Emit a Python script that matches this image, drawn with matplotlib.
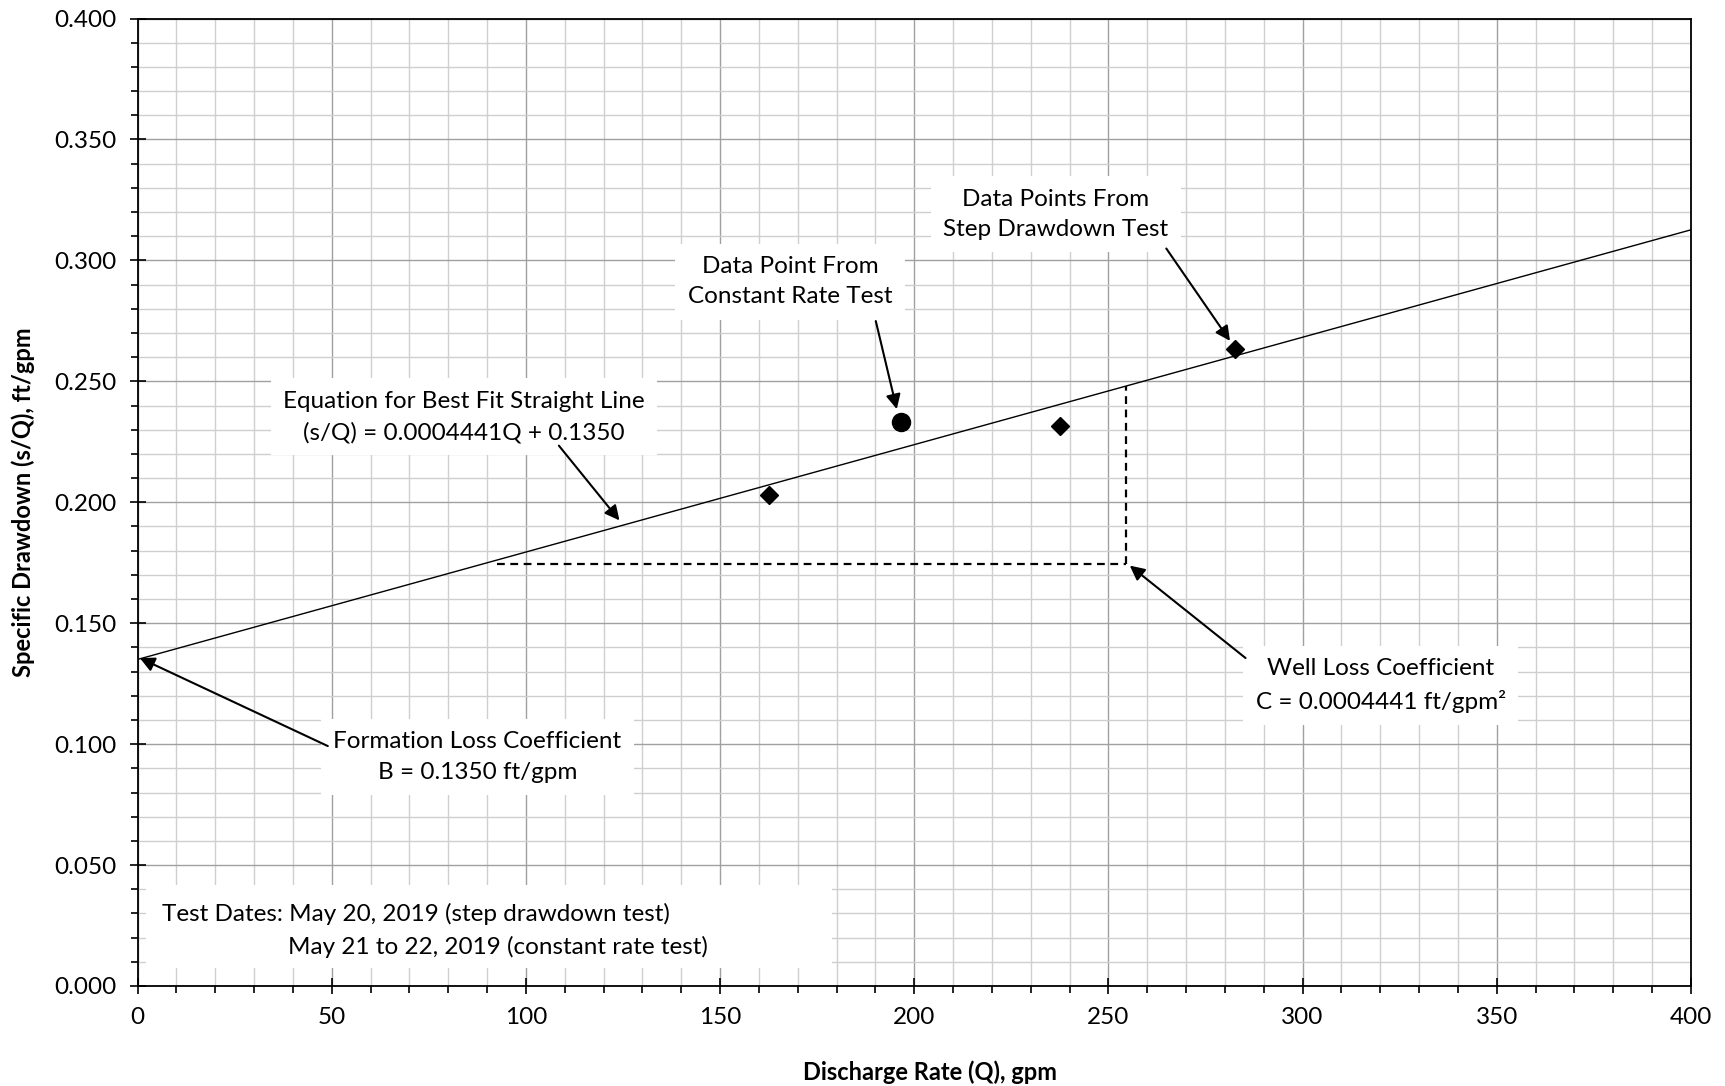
import matplotlib
matplotlib.use("Agg")
import matplotlib.pyplot as plt
from matplotlib.ticker import MultipleLocator, FormatStrFormatter
from matplotlib.patches import Rectangle
import numpy as np

plt.rcParams['font.family'] = ['Lato', 'DejaVu Sans']

# Data
step_q = [162.6, 237.4, 282.7]
step_sq = [0.2030, 0.2316, 0.2632]
const_q = [196.6]
const_sq = [0.2330]
fit_slope = 0.0004441
fit_intercept = 0.1350
fit_q = [0, 400]
guide_h_q = [92.5, 254.5]
guide_h_sq = [0.1745, 0.1745]
guide_v_q = [254.5, 254.5]
guide_v_sq = [0.1745, 0.2480]

fig = plt.figure(figsize=(17.25, 10.86), dpi=100)
ax = fig.add_axes([137.5/1725, 1-986/1086, (1691-137.5)/1725, (986-18.5)/1086])

ax.set_xlim(0, 400)
ax.set_ylim(0, 0.4)
ax.xaxis.set_major_locator(MultipleLocator(50))
ax.xaxis.set_minor_locator(MultipleLocator(10))
ax.yaxis.set_major_locator(MultipleLocator(0.05))
ax.yaxis.set_minor_locator(MultipleLocator(0.01))
ax.yaxis.set_major_formatter(FormatStrFormatter('%.3f'))
ax.grid(which='major', color='#a0a0a0', lw=1.0)
ax.grid(which='minor', color='#cfcfcf', lw=1.0)
ax.set_axisbelow(True)
for s in ax.spines.values():
    s.set_color('black')
    s.set_linewidth(1.3)
ax.tick_params(which='major', direction='inout', length=12, width=1.2, labelsize=17.5, pad=9)
ax.tick_params(which='minor', direction='out', length=5, width=1.2)

fit_sq = [fit_slope*q + fit_intercept for q in fit_q]
ax.plot(fit_q, fit_sq, color='black', lw=1.0, zorder=3)
ax.plot(guide_h_q, guide_h_sq, color='black', lw=1.6, ls=(0, (3.5, 2.5)), zorder=3)
ax.plot(guide_v_q, guide_v_sq, color='black', lw=1.6, ls=(0, (3.5, 2.5)), zorder=3)
ax.plot(step_q, step_sq, ls='none', marker='D', ms=9, color='black', zorder=4)
ax.plot(const_q, const_sq, ls='none', marker='o', ms=13, color='black', zorder=4)

ax.set_xlabel('Discharge Rate (Q), gpm', fontsize=17, fontweight='bold')
ax.set_ylabel('Specific Drawdown (s/Q), ft/gpm', fontsize=17, fontweight='bold')
ax.xaxis.set_label_coords((930-137.5)/1553.5, -0.077)
ax.yaxis.set_label_coords(-0.066, 0.5)

box = dict(facecolor='white', edgecolor='none', pad=9)
tfs = 17.5

def note(x, y, s):
    ax.text(x, y, s, ha='center', va='center', fontsize=tfs, linespacing=1.55,
            bbox=box, zorder=6)

def arrow(tail, head):
    ax.annotate('', xy=head, xytext=tail,
                arrowprops=dict(arrowstyle='-|>', color='black', lw=1.5,
                                mutation_scale=22, shrinkA=0, shrinkB=0),
                zorder=7)

note(84.1, 0.2353, 'Equation for Best Fit Straight Line\n(s/Q) = 0.0004441Q + 0.1350')
arrow((108.5, 0.2234), (124.1, 0.1925))
note(168.0, 0.2912, 'Data Point From\nConstant Rate Test')
arrow((190.1, 0.2749), (195.5, 0.2385))
note(236.5, 0.3190, 'Data Points From\nStep Drawdown Test')
arrow((264.9, 0.3049), (281.3, 0.2667))
note(320.1, 0.1242, 'Well Loss Coefficient\nC = 0.0004441 ft/gpm²')
arrow((285.3, 0.1356), (255.5, 0.1738))
note(87.5, 0.0947, 'Formation Loss Coefficient\nB = 0.1350 ft/gpm')
arrow((49.0, 0.0992), (0.6, 0.1356))

ax.add_patch(Rectangle((2.3, 0.0073), 176.5, 0.0345, facecolor='white', edgecolor='none', zorder=5))
ax.text(6.2, 0.0296, 'Test Dates: May 20, 2019 (step drawdown test)', ha='left', va='center', fontsize=tfs, zorder=6)
ax.text(38.8, 0.0160, 'May 21 to 22, 2019 (constant rate test)', ha='left', va='center', fontsize=tfs, zorder=6)

fig.savefig('out.png', dpi=100)
